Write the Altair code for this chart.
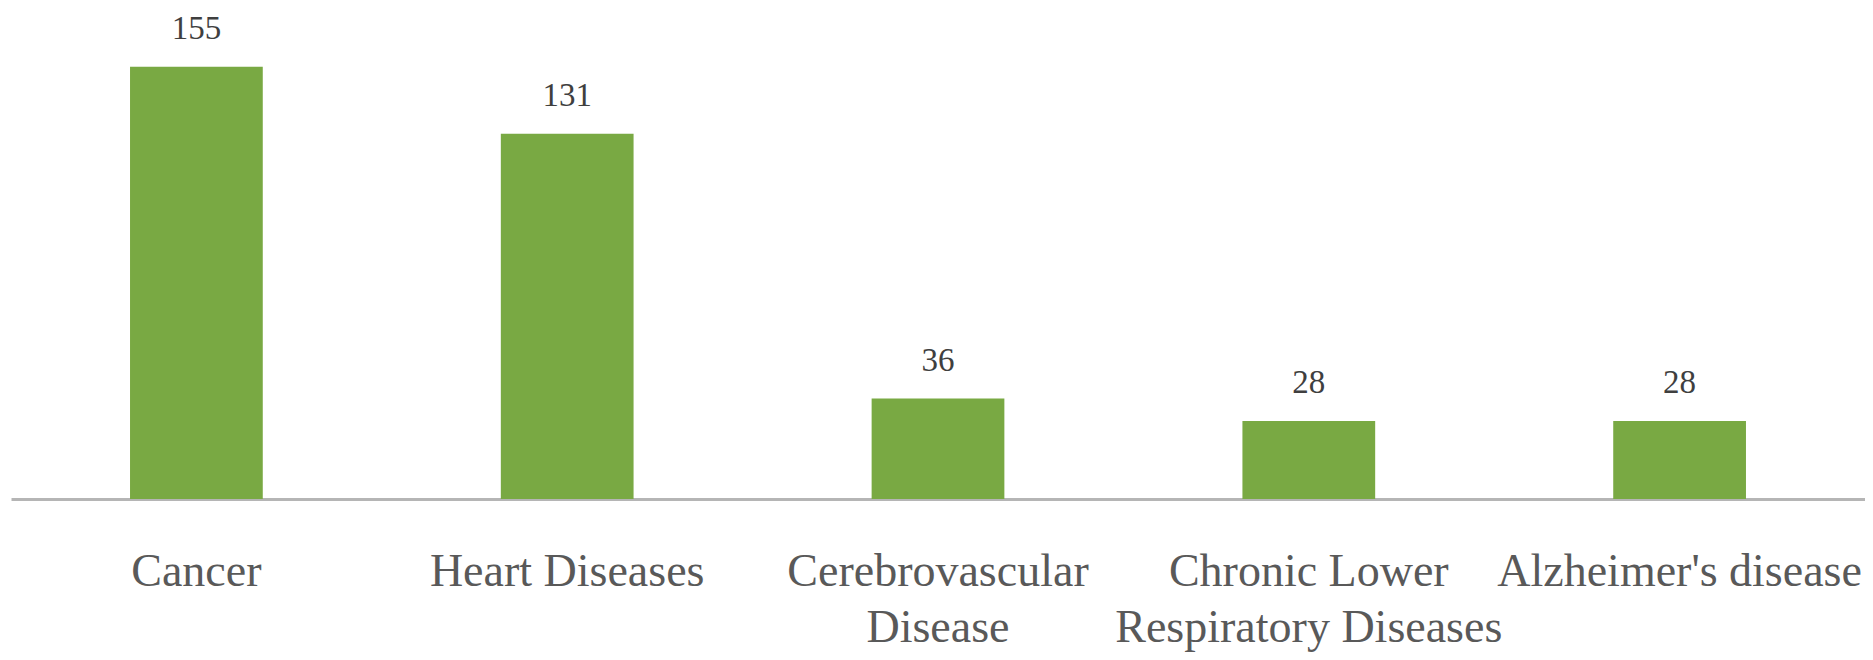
import altair as alt
import pandas as pd

categories = ["Cancer", "Heart Diseases", "Cerebrovascular Disease",
              "Chronic Lower Respiratory Diseases", "Alzheimer's disease"]
values = [155, 131, 36, 28, 28]
label_lines = [["Cancer"], ["Heart Diseases"], ["Cerebrovascular", "Disease"],
               ["Chronic Lower", "Respiratory Diseases"], ["Alzheimer's disease"]]

df = pd.DataFrame({"cause": categories, "value": values})

FONT = "'Times New Roman', 'Liberation Serif', 'DejaVu Serif', serif"

# build label expression for multi-line axis labels
expr = "datum.label"
for cat, lines in zip(categories, label_lines):
    if len(lines) > 1:
        arr = "[" + ", ".join("'" + l.replace("'", "\\'") + "'" for l in lines) + "]"
        expr = f"datum.label == '{cat}' ? {arr} : (" + expr + ")"

x = alt.X("cause:N", sort=categories, title=None,
          scale=alt.Scale(paddingInner=0.642, paddingOuter=0.321),
          axis=alt.Axis(labelAngle=0, labelFont=FONT, labelFontSize=46,
                        labelColor="#595959", labelPadding=50, ticks=False, tickSize=0,
                        domainColor="#b5b5b5", domainWidth=3, labelLineHeight=56,
                        labelExpr=expr, labelLimit=0))
y = alt.Y("value:Q", title=None, scale=alt.Scale(domain=[0, 170], nice=False),
          axis=None)

bars = alt.Chart(df).mark_bar(color="#79a943").encode(x=x, y=y)
text = alt.Chart(df).mark_text(font=FONT, fontSize=33, color="#3f3f3f",
                               baseline="alphabetic", dy=-28).encode(
    x=alt.X("cause:N", sort=categories), y="value:Q", text="value:Q")

chart = (bars + text).properties(
    width=1854, height=474,
    padding={"left": 3, "top": 17, "right": 0, "bottom": 153},
    autosize=alt.AutoSizeParams(type="none"),
    background="white",
).configure_view(stroke=None)

chart.save("out.html", embed_options={"renderer": "svg", "actions": False})
